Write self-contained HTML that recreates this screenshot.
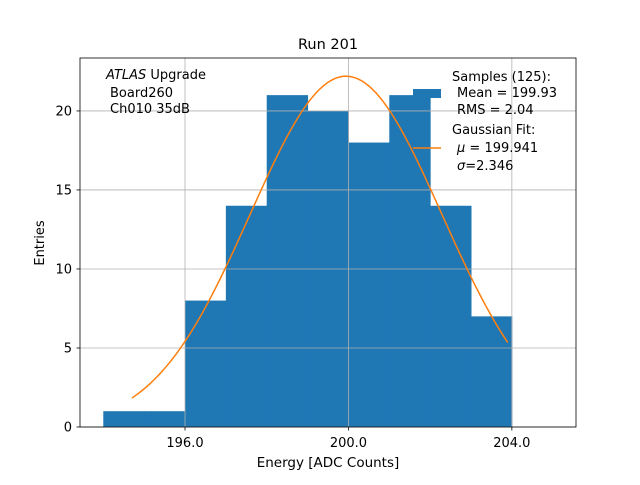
<!DOCTYPE html>
<html><head><meta charset="utf-8"><style>
body{margin:0;background:#fff}
svg text{font-family:"DejaVu Sans","Liberation Sans",sans-serif;fill:#000}
</style></head><body>
<svg id="c" width="640" height="480" xmlns="http://www.w3.org/2000/svg">
<rect width="640" height="480" fill="#fff"/>
<g id="bars"></g><g id="grid"></g><path id="fit" fill="none" stroke="#ff7f0e" stroke-width="1.5"/>
<rect x="80" y="58" width="496" height="369" fill="none" stroke="#000" stroke-width="0.8"/>
<g id="ticks"></g>
<text x="328" y="49" font-size="14.5" text-anchor="middle">Run 201</text>
<text x="328" y="467" font-size="13.5" text-anchor="middle">Energy [ADC Counts]</text>
<text transform="translate(44,243) rotate(-90)" font-size="13" text-anchor="middle">Entries</text>
<g font-size="13">
<text x="106" y="79"><tspan font-style="italic">ATLAS</tspan> Upgrade</text>
<text x="110" y="97">Board260</text><text x="110" y="113">Ch010 35dB</text></g>
<g font-size="13">
<rect x="413" y="89" width="28" height="9" fill="#1f77b4"/>
<text x="452" y="81">Samples (125):</text><text x="457" y="97">Mean = 199.93</text><text x="457" y="114">RMS = 2.04</text>
<line x1="413" y1="148" x2="441" y2="148" stroke="#ff7f0e" stroke-width="1.5"/>
<text x="452" y="134">Gaussian Fit:</text><text x="457" y="152"><tspan font-style="italic">μ</tspan> = 199.941</text><text x="457" y="170"><tspan font-style="italic">σ</tspan>=2.346</text></g>
</svg>
<script>
const binEdges=[194,195,196,197,198,199,200,201,202,203,204];
const counts=[1,1,8,14,21,20,18,21,14,7];
const fitMu=199.941, fitSigma=2.346, fitAmp=22.2, fitRange=[194.7,203.9];
const xTicks=[196,200,204], yTicks=[0,5,10,15,20];
const x=v=>80+(v-193.43)*(496/(205.57-193.43));
const y=v=>427-v*(369/23.35);
const NS="http://www.w3.org/2000/svg";
function mk(t,a,p){const e=document.createElementNS(NS,t);for(const k in a)e.setAttribute(k,a[k]);document.getElementById(p).appendChild(e);return e;}
counts.forEach((c,i)=>{const e=mk('rect',{x:x(binEdges[i]),y:y(c),width:x(binEdges[i+1])-x(binEdges[i])+0.5,height:y(0)-y(c),fill:'#1f77b4'},'bars');

});
xTicks.forEach(t=>{const g=mk('line',{x1:x(t),x2:x(t),y1:58,y2:427,stroke:'#b0b0b0','stroke-width':0.8},'grid');


mk('line',{x1:x(t),x2:x(t),y1:427,y2:430.5,stroke:'#000','stroke-width':0.8},'ticks');
const l=mk('text',{x:x(t),y:447,'font-size':13,'text-anchor':'middle'},'ticks');l.textContent=t.toFixed(1);

});
yTicks.forEach(t=>{const g=mk('line',{x1:80,x2:576,y1:y(t),y2:y(t),stroke:'#b0b0b0','stroke-width':0.8},'grid');


mk('line',{x1:76.5,x2:80,y1:y(t),y2:y(t),stroke:'#000','stroke-width':0.8},'ticks');
const l=mk('text',{x:72,y:y(t)+4.5,'font-size':13,'text-anchor':'end'},'ticks');l.textContent=t;

});
let d='';for(let i=0;i<=100;i++){const v=fitRange[0]+(fitRange[1]-fitRange[0])*i/100;const f=fitAmp*Math.exp(-((v-fitMu)**2)/(2*fitSigma**2));d+=(i?'L':'M')+x(v).toFixed(2)+','+y(f).toFixed(2);}
document.getElementById('fit').setAttribute('d',d);
</script>
</body></html>
